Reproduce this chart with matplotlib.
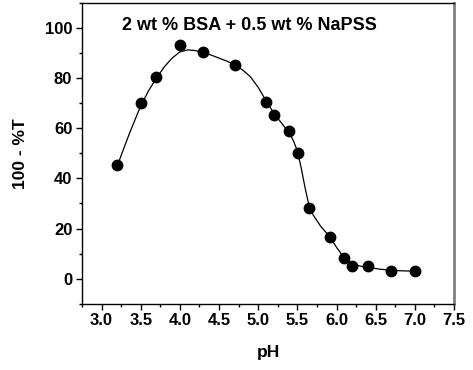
import matplotlib
matplotlib.use("Agg")
import matplotlib.pyplot as plt
from matplotlib.ticker import MultipleLocator

plt.rcParams["font.family"] = ["Liberation Sans", "DejaVu Sans"]
plt.rcParams["font.weight"] = "bold"

# measured points
ph = [3.2, 3.5, 3.7, 4.0, 4.3, 4.7, 5.1, 5.2, 5.39, 5.51, 5.65, 5.92, 6.1, 6.2, 6.4, 6.7, 7.0]
turb = [45.2, 70.0, 80.3, 93.3, 90.3, 85.4, 70.3, 65.3, 58.9, 50.3, 28.2, 16.6, 8.3, 5.2, 5.2, 3.2, 3.2]

# smooth guide curve
curve_ph = [3.2, 3.35, 3.5, 3.6, 3.7, 3.8, 3.9, 4.0, 4.1, 4.2, 4.3, 4.4, 4.5, 4.6, 4.7,
            4.8, 4.9, 5.0, 5.1, 5.2, 5.3, 5.4, 5.45, 5.5, 5.55, 5.6, 5.65, 5.7, 5.8, 5.92,
            6.0, 6.1, 6.2, 6.3, 6.4, 6.55, 6.7, 6.85, 7.0]
curve_t = [45.0, 57.5, 69.0, 75.0, 80.0, 84.5, 88.0, 90.5, 91.3, 91.0, 90.2, 89.2, 88.0,
           86.8, 85.3, 83.3, 80.6, 76.3, 71.0, 66.0, 62.0, 58.0, 55.0, 51.0, 44.0, 36.0,
           29.0, 25.5, 20.8, 16.5, 12.5, 8.2, 6.0, 5.0, 4.5, 3.8, 3.3, 3.1, 3.0]

fig = plt.figure(figsize=(4.73, 3.70), dpi=100)
ax = fig.add_axes([0.1734, 0.1792, 0.7864, 0.8127])

ax.plot(curve_ph, curve_t, color="black", lw=0.9, zorder=2)
ax.plot(ph, turb, "o", color="black", ms=7.5, zorder=3)

ax.set_xlim(2.75, 7.5)
ax.set_ylim(-10, 110)
ax.xaxis.set_minor_locator(MultipleLocator(0.25))
ax.yaxis.set_minor_locator(MultipleLocator(10))
ax.set_xticks([3.0, 3.5, 4.0, 4.5, 5.0, 5.5, 6.0, 6.5, 7.0, 7.5])
ax.set_yticks([0, 20, 40, 60, 80, 100])
ax.tick_params(which="major", direction="out", length=4, width=1, labelsize=12, pad=3)
ax.tick_params(which="minor", direction="out", length=2.5, width=1)

ax.spines["top"].set_linewidth(1)
ax.spines["left"].set_linewidth(1)
ax.spines["bottom"].set_linewidth(1)
ax.spines["right"].set_color("#808080")
ax.spines["right"].set_linewidth(2)

ax.set_xlabel("pH", fontsize=12.5, fontweight="bold", labelpad=12)
ax.set_ylabel("100 - %T", fontsize=12.5, fontweight="bold", labelpad=12)
ax.text(0.45, 0.925, "2 wt % BSA + 0.5 wt % NaPSS", transform=ax.transAxes,
        ha="center", va="center", fontsize=13, fontweight="bold")

fig.savefig("out.png", dpi=100)
